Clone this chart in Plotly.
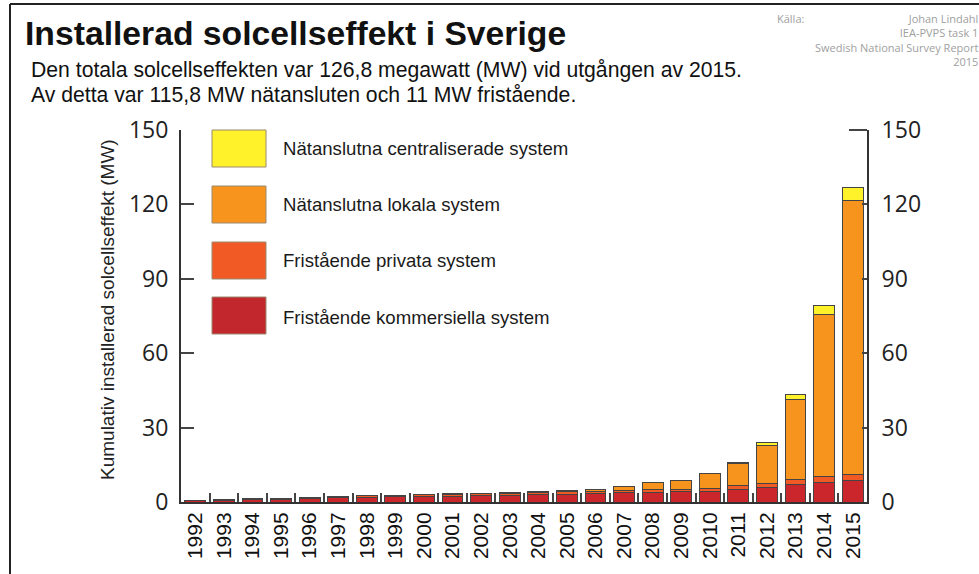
import plotly.graph_objects as go

years = [str(y) for y in range(1992, 2016)]

kommersiella = [0.6, 0.8, 1.0, 1.2, 1.5, 1.7, 1.9, 2.1, 2.2, 2.4, 2.6, 2.8,
                3.0, 3.2, 3.4, 3.7, 3.9, 4.1, 4.4, 5.1, 5.8, 6.9, 7.8, 8.5]
privata = [0.2, 0.2, 0.3, 0.35, 0.45, 0.5, 0.55, 0.6, 0.65, 0.7, 0.75, 0.8,
           0.85, 0.9, 1.0, 1.0, 1.1, 1.1, 1.2, 1.5, 1.7, 2.0, 2.3, 2.5]
lokala = [0.0, 0.0, 0.0, 0.05, 0.05, 0.1, 0.15, 0.1, 0.15, 0.2, 0.25, 0.3,
          0.35, 0.4, 0.8, 1.5, 2.9, 3.6, 5.7, 9.0, 15.3, 32.5, 65.6, 110.5]
centraliserade = [0, 0, 0, 0, 0, 0, 0, 0, 0, 0, 0, 0,
                  0, 0, 0, 0, 0, 0, 0.1, 0.3, 1.3, 1.8, 3.7, 5.3]

series_names = ["Fristående kommersiella system", "Fristående privata system",
                "Nätanslutna lokala system", "Nätanslutna centraliserade system"]
series_values = [kommersiella, privata, lokala, centraliserade]
series_colors = ["#CC262D", "#F15A24", "#F7941D", "#FFF22A"]

y_ticks = [0, 30, 60, 90, 120, 150]

title = "Installerad solcellseffekt i Sverige"
subtitle1 = "Den totala solcellseffekten var 126,8 megawatt (MW) vid utgången av 2015."
subtitle2 = "Av detta var 115,8 MW nätansluten och 11 MW fristående."
y_title = "Kumulativ installerad solcellseffekt (MW)"
source_label = "Källa:"
source_lines = ["Johan Lindahl", "IEA-PVPS task 1", "Swedish National Survey Report", "2015"]

# plot area in pixels
L, R, T, B = 181, 867, 130, 502
W_, H_ = R - L, B - T


def px(x):
    return (x - L) / W_


def py(y):
    return (B - y) / H_


fig = go.Figure()
for name, vals, col in zip(series_names, series_values, series_colors):
    fig.add_trace(go.Bar(
        x=years, y=vals, name=name, marker=dict(color=col, line=dict(color="#444", width=1)),
        showlegend=False, hoverinfo="x+y+name"))

totals = [sum(v) for v in zip(*series_values)]
fig.add_trace(go.Scatter(x=years, y=totals, yaxis="y2", mode="markers",
                         marker=dict(opacity=0), showlegend=False, hoverinfo="skip"))

shapes = []
annotations = []

# frame
shapes.append(dict(type="line", xref="paper", yref="paper", x0=px(10), x1=px(990),
                   y0=py(4), y1=py(4), line=dict(color="#222", width=2)))
shapes.append(dict(type="line", xref="paper", yref="paper", x0=px(10), x1=px(10),
                   y0=py(4), y1=py(580), line=dict(color="#222", width=2)))
# right top bracket tick
shapes.append(dict(type="line", xref="paper", yref="paper", x0=px(849), x1=1,
                   y0=1, y1=1, line=dict(color="#444", width=2)))

# legend boxes
legend_rows = [(series_names[3], series_colors[3], 130, 167, 149),
               (series_names[2], series_colors[2], 186, 223, 204),
               (series_names[1], series_colors[1], 242, 279, 260),
               (series_names[0], "#C1272D", 297, 334, 317)]
for name, col, y0, y1, yc in legend_rows:
    shapes.append(dict(type="rect", xref="paper", yref="paper", x0=px(212), x1=px(266),
                       y0=py(y1), y1=py(y0), fillcolor=col, line=dict(color="#9a8a70", width=1)))
    annotations.append(dict(text=name, xref="paper", yref="paper", x=px(281), y=py(yc),
                            xanchor="left", yanchor="middle", showarrow=False,
                            font=dict(family="Liberation Sans, Arial", size=18.6, color="#1a1a1a")))

annotations.append(dict(text="<b>" + title + "</b>", xref="paper", yref="paper", x=px(23), y=py(33),
                        xanchor="left", yanchor="middle", showarrow=False,
                        font=dict(family="Liberation Sans, Arial", size=33.7, color="#111")))
annotations.append(dict(text=subtitle1, xref="paper", yref="paper", x=px(29), y=py(70),
                        xanchor="left", yanchor="middle", showarrow=False,
                        font=dict(family="Liberation Sans, Arial", size=21.2, color="#111")))
annotations.append(dict(text=subtitle2, xref="paper", yref="paper", x=px(29), y=py(94),
                        xanchor="left", yanchor="middle", showarrow=False,
                        font=dict(family="Liberation Sans, Arial", size=21.2, color="#111")))
annotations.append(dict(text=y_title, xref="paper", yref="paper", x=px(107), y=py(310),
                        xanchor="center", yanchor="middle", textangle=-90, showarrow=False,
                        font=dict(family="Liberation Sans, Arial", size=19, color="#222")))
annotations.append(dict(text=source_label, xref="paper", yref="paper", x=px(775), y=py(18),
                        xanchor="left", yanchor="middle", showarrow=False,
                        font=dict(family="Open Sans", size=11, color="#a0a0a0")))
annotations.append(dict(text="<br>".join(source_lines), xref="paper", yref="paper",
                        x=px(979), y=py(10), xanchor="right", yanchor="top", align="right",
                        showarrow=False, borderpad=0,
                        font=dict(family="Open Sans", size=11, color="#a0a0a0")))

fig.update_layout(
    width=979, height=574,
    margin=dict(l=L, r=979 - R, t=T, b=574 - B, pad=0),
    paper_bgcolor="white", plot_bgcolor="white",
    barmode="stack", bargap=0.27,
    shapes=shapes, annotations=annotations,
    showlegend=False,
    xaxis=dict(type="category", range=[-0.5, 23.5], showline=True, linecolor="#333", linewidth=2,
               ticks="inside", tickson="boundaries", ticklen=9, tickcolor="#444", tickwidth=1.5,
               tickangle=-90, showgrid=False, zeroline=False,
               tickfont=dict(family="Liberation Sans, Arial", size=21, color="#111")),
    yaxis=dict(range=[0, 150], tickvals=y_ticks, showline=True, linecolor="#333", linewidth=2,
               ticks="inside", ticklen=13, tickcolor="#444", tickwidth=1.5, showgrid=False,
               zeroline=False, ticklabelstandoff=6,
               tickfont=dict(family="Open Sans", size=23, color="#222")),
    yaxis2=dict(range=[0, 150], tickvals=y_ticks, overlaying="y", side="right", showline=True,
                linecolor="#333", linewidth=2, ticks="inside", ticklen=5, tickcolor="#444",
                tickwidth=1.5, showgrid=False, zeroline=False, ticklabelstandoff=8,
                tickfont=dict(family="Open Sans", size=23, color="#222")),
)

fig.write_html("out.html", config={"displayModeBar": False},
               post_script="document.body.style.margin='0';")
